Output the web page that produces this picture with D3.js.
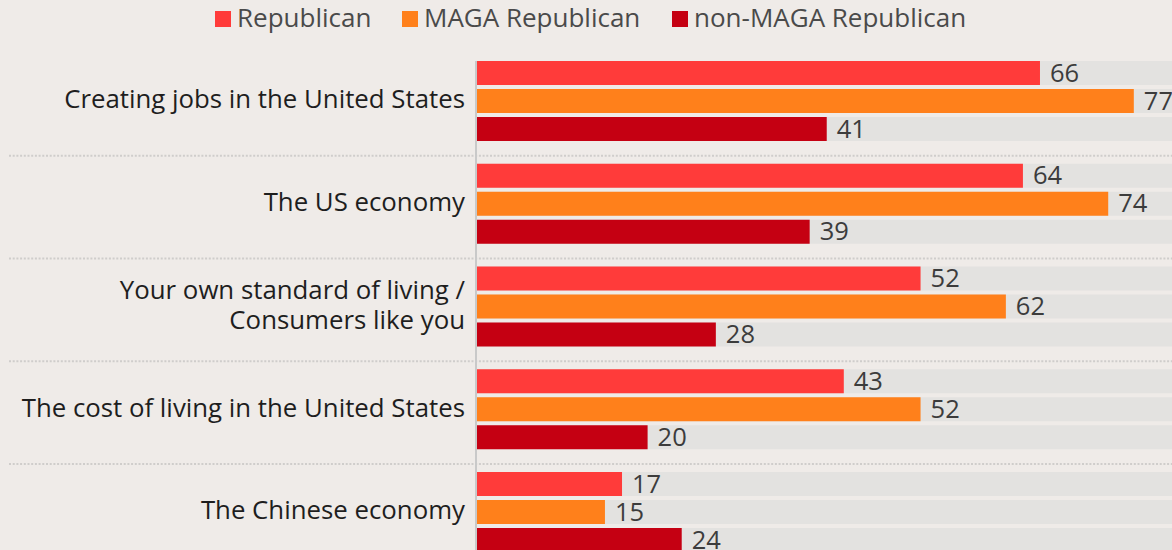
<!DOCTYPE html>
<html>
<head>
<meta charset="utf-8">
<script src="https://cdn.jsdelivr.net/npm/d3@7"></script>
<style>
  html, body { margin: 0; padding: 0; background: #efebe8; }
  svg { display: block; font-family: "Open Sans", Lato, sans-serif; }
</style>
</head>
<body>
<svg id="chart" width="1172" height="550"></svg>
<script>
// Survey topics (rows) and the three respondent groups (bars per row)
const categories = [
  ["Creating jobs in the United States"],
  ["The US economy"],
  ["Your own standard of living /", "Consumers like you"],
  ["The cost of living in the United States"],
  ["The Chinese economy"]
];
const seriesNames = ["Republican", "MAGA Republican", "non-MAGA Republican"];
const seriesColors = ["#ff3b3a", "#ff801b", "#c50012"];

// Percent values, one array per group, in category order
const republican = [66, 64, 52, 43, 17];
const magaRepublican = [77, 74, 62, 52, 15];
const nonMagaRepublican = [41, 39, 28, 20, 24];
const seriesValues = [republican, magaRepublican, nonMagaRepublican];

const svg = d3.select("#chart");
const W = 1172;
const catKeys = categories.map((c, i) => i);

const x = d3.scaleLinear().domain([0, 100]).range([477, 1330]);
const yOuter = d3.scaleBand().domain(catKeys).range([50.5, 50.5 + 5 * 102.75]).paddingInner(0).paddingOuter(0);
const yInner = d3.scaleBand().domain(seriesNames).range([10.5, 90.5]).paddingInner(4 / 28).paddingOuter(0);

// Dotted separators between topic groups
svg.append("g").selectAll("line")
  .data(catKeys.slice(1))
  .join("line")
  .attr("x1", 9).attr("x2", W)
  .attr("y1", d => yOuter(d) + 2.5).attr("y2", d => yOuter(d) + 2.5)
  .attr("stroke", "#cfcdcb")
  .attr("stroke-width", 2)
  .attr("stroke-dasharray", "2,1.7");

const groups = svg.append("g").selectAll("g")
  .data(catKeys)
  .join("g")
  .attr("transform", d => `translate(0,${yOuter(d)})`);

// Full-scale track behind each bar
groups.selectAll("rect.track")
  .data(seriesNames)
  .join("rect")
  .attr("class", "track")
  .attr("x", x(0))
  .attr("y", s => yInner(s))
  .attr("width", x(100) - x(0))
  .attr("height", yInner.bandwidth())
  .attr("fill", "#e3e2e0");

// Value bars
groups.selectAll("rect.bar")
  .data(c => seriesNames.map((s, i) => ({ s, i, v: seriesValues[i][c] })))
  .join("rect")
  .attr("class", "bar")
  .attr("x", x(0))
  .attr("y", d => yInner(d.s))
  .attr("width", d => x(d.v) - x(0))
  .attr("height", yInner.bandwidth())
  .attr("fill", d => seriesColors[d.i]);

// Value labels
groups.selectAll("text.val")
  .data(c => seriesNames.map((s, i) => ({ s, i, v: seriesValues[i][c] })))
  .join("text")
  .attr("class", "val")
  .attr("x", d => x(d.v) + 10)
  .attr("y", d => yInner(d.s) + yInner.bandwidth() / 2)
  .attr("dy", "0.34em")
  .attr("font-size", 25.5)
  .attr("fill", "#3c3c3c")
  .text(d => d.v);

// Category labels, right-aligned against the axis
groups.append("text")
  .attr("text-anchor", "end")
  .attr("font-size", 25.8)
  .attr("fill", "#1e1e1e")
  .each(function(c) {
    const lines = categories[c];
    const mid = yInner(seriesNames[1]) + yInner.bandwidth() / 2 - 2;
    const lh = 30;
    d3.select(this).selectAll("tspan")
      .data(lines)
      .join("tspan")
      .attr("x", 465)
      .attr("y", (l, j) => mid + (j - (lines.length - 1) / 2) * lh)
      .attr("dy", "0.36em")
      .text(l => l);
  });

// Vertical axis line
svg.append("line")
  .attr("x1", 476).attr("x2", 476)
  .attr("y1", yOuter(0) + yInner(seriesNames[0])).attr("y2", 550)
  .attr("stroke", "#c9c9c9")
  .attr("stroke-width", 2);

// Legend
const legendX = [215, 402, 672];
const legend = svg.append("g").selectAll("g")
  .data(seriesNames)
  .join("g")
  .attr("transform", (d, i) => `translate(${legendX[i]},0)`);
legend.append("rect")
  .attr("x", 0).attr("y", 11)
  .attr("width", 16).attr("height", 16)
  .attr("fill", (d, i) => seriesColors[i]);
legend.append("text")
  .attr("x", 22).attr("y", 18)
  .attr("dy", "0.36em")
  .attr("font-size", 26)
  .attr("fill", "#4a4a4a")
  .text(d => d);
</script>
</body>
</html>
